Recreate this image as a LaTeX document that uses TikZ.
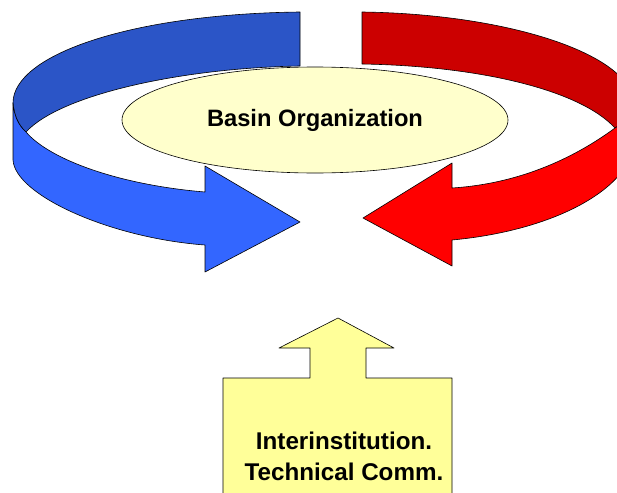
\documentclass[tikz,border=0pt]{standalone}
\usepackage{fontspec}
\setmainfont{Liberation Sans}
\usetikzlibrary{shapes.geometric}
\definecolor{BlueBack}{RGB}{43,85,199}
\definecolor{BlueFront}{RGB}{51,102,255}
\definecolor{RedBack}{RGB}{204,0,0}
\definecolor{RedFront}{RGB}{255,0,0}
\definecolor{OrgFill}{RGB}{255,255,204}
\definecolor{CommFill}{RGB}{255,255,153}

\begin{document}
\begin{tikzpicture}[
        x=1pt, y=-1pt,
        band/.style={
            draw=black,
            line width=0.6pt,
            line join=round
        },
        organization/.style={
            ellipse,
            draw=black,
            fill=OrgFill,
            line width=0.6pt,
            minimum width=386pt,
            minimum height=106pt,
            inner sep=0pt,
            font=\bfseries\fontsize{23.7}{28}\selectfont
        },
        committee/.style={
            align=center,
            inner sep=0pt,
            font=\bfseries\fontsize{24.2}{31}\selectfont
        }
    ]
        \clip (0,0) rectangle (617,492);
        % back halves of the two ribbons
        \filldraw[band, fill=BlueBack] (300,12) .. controls (130,14) and (13,55) .. (13,103)
            .. controls (14,115) and (18,125) .. (26,132)
            .. controls (60,95) and (180,68) .. (300,66) -- cycle;
        \filldraw[band, fill=RedBack] (362,12) .. controls (510,14) and (634,55) .. (634,105)
            .. controls (633,115) and (625,122) .. (615,128)
            .. controls (580,90) and (480,66) .. (362,64) -- cycle;

        \node[organization] (basin) at (315,120) {Basin Organization};

        % front halves with arrow heads
        \filldraw[band, fill=BlueFront] (13,103) -- (13,160)
            .. controls (15,195) and (110,238) .. (205,245)
            -- (205,272) -- (300,222) -- (205,166) -- (205,192)
            .. controls (120,185) and (50,160) .. (26,132)
            .. controls (18,125) and (14,115) .. (13,103) -- cycle;
        \filldraw[band, fill=RedFront] (634,105) -- (634,140)
            .. controls (634,185) and (560,230) .. (452,240)
            -- (452,266) -- (363,218) -- (452,163) -- (452,188)
            .. controls (530,183) and (585,150) .. (615,128)
            .. controls (625,122) and (633,115) .. (634,105) -- cycle;

        % committee box with up arrow
        \filldraw[band, fill=CommFill] (223,500) -- (223,378) -- (310,378) -- (310,348)
            -- (279,348) -- (338,318) -- (394,348) -- (366,348) -- (366,378)
            -- (452,378) -- (452,500) -- cycle;
        \node[committee] (comm) at (344,456) {Interinstitution.\\Technical Comm.};
    \end{tikzpicture}
\end{document}
